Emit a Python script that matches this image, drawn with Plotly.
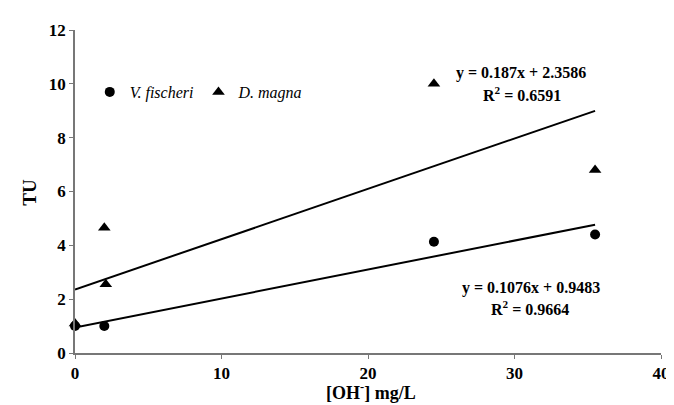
import plotly.graph_objects as go

# Data
vf_x = [0, 2, 24.5, 35.5]
vf_y = [1.0, 1.0, 4.13, 4.4]
dm_x = [0, 2, 2.1, 24.5, 35.5]
dm_y = [1.1, 4.65, 2.55, 10.0, 6.8]

# Trendline coefficients as shown on the chart
vf_slope, vf_intercept, vf_r2 = 0.1076, 0.9483, 0.9664
dm_slope, dm_intercept, dm_r2 = 0.187, 2.3586, 0.6591

x_ticks = [0, 10, 20, 30, 40]
y_ticks = [0, 2, 4, 6, 8, 10, 12]

SERIF = "Liberation Serif"
W, H = 674, 405
L, R, T, B = 67, 12, 22, 60
PW, PH = W - L - R, H - T - B

fig = go.Figure()

line_x = [0, max(vf_x)]
fig.add_trace(go.Scatter(x=line_x, y=[vf_intercept + vf_slope * v for v in line_x],
                         mode="lines", line=dict(color="black", width=2),
                         showlegend=False, hoverinfo="skip"))
line_x2 = [0, max(dm_x)]
fig.add_trace(go.Scatter(x=line_x2, y=[dm_intercept + dm_slope * v for v in line_x2],
                         mode="lines", line=dict(color="black", width=2),
                         showlegend=False, hoverinfo="skip"))

fig.add_trace(go.Scatter(x=vf_x, y=vf_y, mode="markers", name="V. fischeri",
                         marker=dict(symbol="circle", size=10, color="black"),
                         cliponaxis=False))
fig.add_trace(go.Scatter(x=dm_x, y=dm_y, mode="markers", name="D. magna",
                         marker=dict(symbol="triangle-up", size=11, color="black"),
                         cliponaxis=False))

ann_font = dict(family=SERIF, size=16, color="black")
annots = [
    (f"<b>y = {dm_slope}x + {dm_intercept}</b>", 520, 65),
    (f"<b>R<sup>2</sup> = {dm_r2}</b>", 521, 86),
    (f"<b>y = {vf_slope}x + {vf_intercept}</b>", 530, 280),
    (f"<b>R<sup>2</sup> = {vf_r2}</b>", 529, 300),
]
for txt, px, py in annots:
    fig.add_annotation(x=(px - L) / PW, y=1 - (py - T) / PH,
                       xref="paper", yref="paper", text=txt, showarrow=False,
                       font=ann_font, xanchor="center", yanchor="middle")

# axis titles
fig.add_annotation(x=(368 - L) / PW, y=1 - (383 - T) / PH, xref="paper", yref="paper",
                   text="<b>[OH<sup>-</sup>] mg/L</b>", showarrow=False,
                   font=dict(family=SERIF, size=18, color="black"),
                   xanchor="center", yanchor="middle")
fig.add_annotation(x=(20 - L) / PW, y=1 - (184 - T) / PH, xref="paper", yref="paper",
                   text="<b>TU</b>", showarrow=False, textangle=-90,
                   font=dict(family=SERIF, size=19, color="black"),
                   xanchor="center", yanchor="middle")

fig.update_layout(
    width=W, height=H,
    margin=dict(l=L, r=R, t=T, b=B),
    plot_bgcolor="white", paper_bgcolor="white",
    legend=dict(orientation="h", x=(82 - L) / PW, y=1 - (84 - T) / PH,
                xanchor="left", yanchor="middle", bgcolor="rgba(0,0,0,0)",
                font=dict(family=SERIF, size=16, color="black", style="italic"),
                itemwidth=30),
)
fig.update_xaxes(range=[0, 40], tickvals=x_ticks, showgrid=False, zeroline=False,
                 showline=True, linecolor="#777777", linewidth=1.5, ticks="outside")
fig.update_yaxes(range=[0, 12], tickvals=y_ticks, showgrid=False, zeroline=False,
                 showline=True, linecolor="#777777", linewidth=1.5, ticks="outside")
fig.update_xaxes(tickfont=dict(family=SERIF, size=17, color="black", weight="bold"),
                 ticklen=4, tickcolor="#777777")
fig.update_yaxes(tickfont=dict(family=SERIF, size=17, color="black", weight="bold"),
                 ticklen=4, tickcolor="#777777")

fig.write_html("out.html")
